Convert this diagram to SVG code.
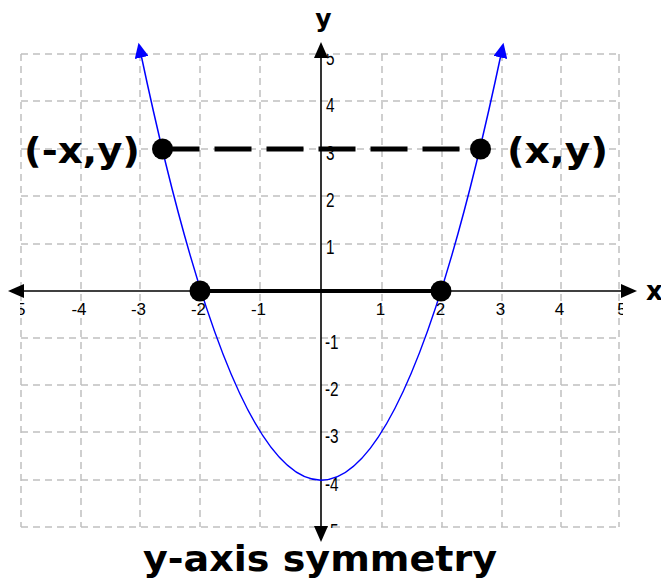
<svg xmlns="http://www.w3.org/2000/svg" width="661" height="580" viewBox="0 0 661 580">
  <style>
    .grid line { stroke: #c0c0c0; stroke-width: 1.5; stroke-dasharray: 7 5; }
    .axis { stroke: #000; stroke-width: 1.6; fill: none; }
    .tick { font-family: "Liberation Sans", Arial, sans-serif; font-size: 17px; fill: #000; }
    .tx { text-anchor: middle; }
    .big { font-family: "DejaVu Sans", Verdana, sans-serif; font-weight: bold; fill: #000; }
    .dot { fill: #000; }
  </style>
  <defs>
    <clipPath id="gridclip">
      <rect x="20" y="54" width="603" height="474"/>
    </clipPath>
    <marker id="blueArrow" viewBox="0 0 16 14" refX="3" refY="7" markerWidth="16" markerHeight="14" markerUnits="userSpaceOnUse" orient="auto-start-reverse">
      <path d="M0,0 L15,7 L0,14 Z" fill="#0000ff"/>
    </marker>
    <marker id="blackArrow" viewBox="0 0 16 14" refX="1" refY="7" markerWidth="16" markerHeight="14" markerUnits="userSpaceOnUse" orient="auto-start-reverse">
      <path d="M0,0 L16,7 L0,14 Z" fill="#000"/>
    </marker>
  </defs>

  <rect x="0" y="0" width="661" height="580" fill="#fff"/>

  <g id="grid" class="grid">
    <line x1="21" y1="54" x2="21" y2="527"/>
    <line x1="81" y1="54" x2="81" y2="527"/>
    <line x1="140" y1="54" x2="140" y2="527"/>
    <line x1="200" y1="54" x2="200" y2="527"/>
    <line x1="260" y1="54" x2="260" y2="527"/>
    <line x1="382" y1="54" x2="382" y2="527"/>
    <line x1="442" y1="54" x2="442" y2="527"/>
    <line x1="502" y1="54" x2="502" y2="527"/>
    <line x1="561" y1="54" x2="561" y2="527"/>
    <line x1="619" y1="54" x2="619" y2="527"/>
    <line x1="21" y1="54" x2="619" y2="54"/>
    <line x1="21" y1="101" x2="619" y2="101"/>
    <line x1="21" y1="149" x2="619" y2="149"/>
    <line x1="21" y1="196" x2="619" y2="196"/>
    <line x1="21" y1="244" x2="619" y2="244"/>
    <line x1="21" y1="338" x2="619" y2="338"/>
    <line x1="21" y1="385" x2="619" y2="385"/>
    <line x1="21" y1="432" x2="619" y2="432"/>
    <line x1="21" y1="480" x2="619" y2="480"/>
    <line x1="21" y1="527" x2="619" y2="527"/>
  </g>

  <g id="tick-labels" clip-path="url(#gridclip)">
    <text class="tick tx" x="18" y="315">-5</text>
    <text class="tick tx" x="79" y="315">-4</text>
    <text class="tick tx" x="138.5" y="315">-3</text>
    <text class="tick tx" x="198.5" y="315">-2</text>
    <text class="tick tx" x="258.5" y="315">-1</text>
    <text class="tick tx" x="380.5" y="315">1</text>
    <text class="tick tx" x="440.5" y="315">2</text>
    <text class="tick tx" x="500.5" y="315">3</text>
    <text class="tick tx" x="559.5" y="315">4</text>
    <text class="tick tx" x="622" y="315">5</text>
    <text class="tick" transform="translate(326,65) scale(0.9,1.15)">5</text>
    <text class="tick" transform="translate(326,112) scale(0.9,1.15)">4</text>
    <text class="tick" transform="translate(326,160) scale(0.9,1.15)">3</text>
    <text class="tick" transform="translate(326,207) scale(0.9,1.15)">2</text>
    <text class="tick" transform="translate(326,254) scale(0.9,1.15)">1</text>
    <text class="tick" transform="translate(325,349) scale(0.9,1.15)">-1</text>
    <text class="tick" transform="translate(325,396) scale(0.9,1.15)">-2</text>
    <text class="tick" transform="translate(325,443) scale(0.9,1.15)">-3</text>
    <text class="tick" transform="translate(325,491) scale(0.9,1.15)">-4</text>
    <text class="tick" transform="translate(325,538) scale(0.9,1.15)">-5</text>
  </g>

  <g id="connectors">
    <line id="x-axis" class="axis" x1="23" y1="291" x2="622" y2="291" marker-start="url(#blackArrow)" marker-end="url(#blackArrow)"/>
    <line id="y-axis" class="axis" x1="321" y1="57" x2="321" y2="527" marker-start="url(#blackArrow)" marker-end="url(#blackArrow)"/>
    <path id="parabola" d="M141,54.5 Q321,905.9 501,54.5" fill="none" stroke="#0000ff" stroke-width="1.5" marker-start="url(#blueArrow)" marker-end="url(#blueArrow)"/>
    <line id="root-segment" x1="200" y1="291" x2="441" y2="291" stroke="#000" stroke-width="4"/>
    <line id="symmetry-line" x1="162.5" y1="149" x2="480.5" y2="149" stroke="#000" stroke-width="5" stroke-dasharray="37 15"/>
  </g>

  <g id="point-neg2">
    <circle class="dot" cx="200" cy="291" r="10.5"/>
  </g>
  <g id="point-2">
    <circle class="dot" cx="441" cy="291" r="10.5"/>
  </g>
  <g id="point-negx-y">
    <circle class="dot" cx="162.5" cy="149" r="10.5"/>
    <text class="big" x="24" y="163" font-size="35" textLength="116" lengthAdjust="spacingAndGlyphs">(-x,y)</text>
  </g>
  <g id="point-x-y">
    <circle class="dot" cx="480.5" cy="149" r="10.5"/>
    <text class="big" x="507" y="163" font-size="35" textLength="101" lengthAdjust="spacingAndGlyphs">(x,y)</text>
  </g>

  <g id="axis-labels">
    <text class="big" x="323.5" y="27" font-size="25" text-anchor="middle">y</text>
    <text class="big" x="646" y="300" font-size="26">x</text>
  </g>

  <g id="title">
    <text class="big" x="320" y="571" font-size="35" text-anchor="middle" textLength="354" lengthAdjust="spacingAndGlyphs">y-axis symmetry</text>
  </g>
</svg>
